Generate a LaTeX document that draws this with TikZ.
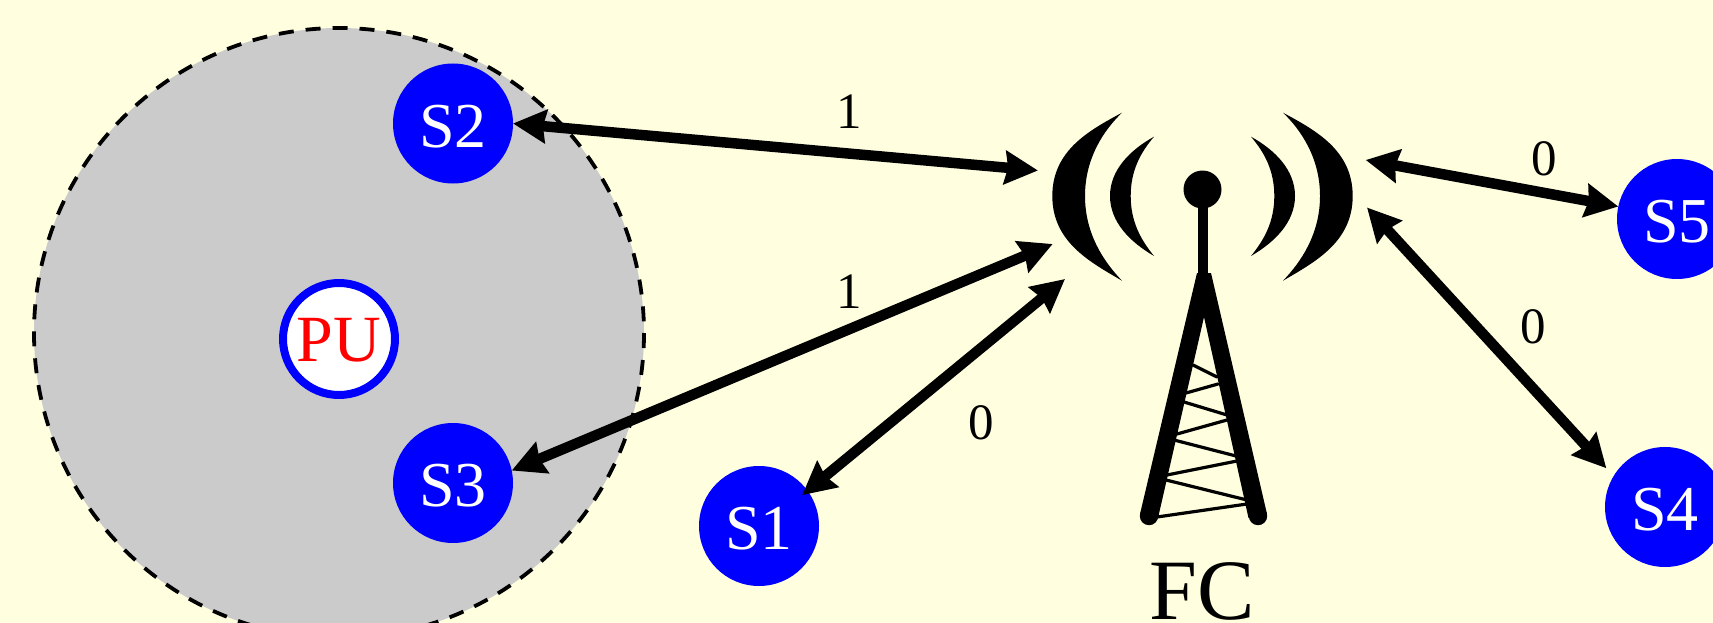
\documentclass[tikz,border=0pt]{standalone}
\usepackage{fontspec}
\setmainfont{Liberation Serif}
\usetikzlibrary{arrows.meta}
\definecolor{bgc}{RGB}{255,255,224}
\definecolor{zone}{RGB}{203,203,203}
\definecolor{nodeblue}{RGB}{0,0,255}
\tikzset{
  sensor/.style={circle,fill=nodeblue,text=white,minimum size=120pt,inner sep=0pt,outer sep=0pt,text height=47pt,text depth=0pt,font=\fontsize{64}{64}\selectfont},
  primary/.style={circle,draw=nodeblue,line width=8pt,fill=white,text=red,minimum size=112pt,inner sep=0pt,outer sep=0pt,text height=45pt,text depth=0pt,font=\fontsize{66}{66}\selectfont},
  link/.style={line width=10.5pt,{Stealth[length=33pt,width=33pt,inset=3pt]}-{Stealth[length=33pt,width=33pt,inset=3pt]}},
  bit/.style={inner sep=0pt,font=\fontsize{51}{51}\selectfont},
  mast/.style={line width=10.5pt},
  brace/.style={line width=3.2pt,line cap=round}
}
\begin{document}
\begin{tikzpicture}[x=1pt,y=-1pt]
\useasboundingbox (0,0) rectangle (1713,623);
\clip (0,0) rectangle (1713,623);
\fill[bgc] (0,0) rectangle (1713,623);
% sensing zone
\draw[fill=zone,line width=3.8pt,dash pattern=on 15pt off 12pt] (339,333) circle[radius=305];
% tower
\fill (1202.5,189.5) circle[radius=19];
\draw[mast] (1203,190) -- (1203,275);
\fill (1197,273) -- (1211,273) -- (1267,514) -- (1248.5,518) -- (1204,317) -- (1158,518) -- (1140,514) -- cycle;
\fill (1149,516) circle[radius=9.2];
\fill (1258,516) circle[radius=9.2];
\draw[brace] (1193,365) -- (1217,377);
\draw[brace] (1186,393) -- (1218,384);
\draw[brace] (1184,402) -- (1227,415);
\draw[brace] (1177,434) -- (1227,420);
\draw[brace] (1174,440) -- (1236,456);
\draw[brace] (1167,475) -- (1237,461);
\draw[brace] (1166,480) -- (1247,500);
\draw[brace] (1157,517) -- (1247,504);
% radio waves
\foreach \s in {1,-1}{
  \begin{scope}[shift={(1202.5,0)},xscale=\s]
    \fill (-80.5,112.7) .. controls (-112.5,130) and (-150.2,150) .. (-150.2,196)
          .. controls (-150.2,242) and (-112.5,262) .. (-80.5,280.7)
          .. controls (-98.5,262) and (-117.5,234) .. (-117.5,196)
          .. controls (-117.5,158) and (-98.5,130) .. cycle;
    \fill (-48.5,136.7) .. controls (-72.5,150) and (-92.5,170) .. (-92.5,196)
          .. controls (-92.5,222) and (-72.5,242) .. (-48.5,256)
          .. controls (-61.5,240) and (-71.8,222) .. (-71.8,196)
          .. controls (-71.8,170) and (-61.5,152) .. cycle;
  \end{scope}
}
\coordinate (a2) at (1038,170.5);
\coordinate (a3) at (1052.7,244);
\coordinate (a1) at (1065,279);
\coordinate (a5) at (1365.7,160);
\coordinate (a4) at (1367,207.5);
% nodes
\node[primary] (PU) at (339,339) {PU};
\node[sensor] (S1) at (759,526) {S1};
\node[sensor] (S2) at (453,123.5) {S2};
\node[sensor] (S3) at (453,483) {S3};
\node[sensor] (S4) at (1665,507) {S4};
\node[sensor] (S5) at (1677,219) {S5};
\node[inner sep=0pt,font=\fontsize{86}{86}\selectfont] (FC) at (1202,591) {FC};
% links
\draw[link] (S2.0) -- (a2);
\draw[link] (S3.12) -- (a3);
\draw[link,shorten <=-7pt] (S1.36) -- (a1);
\draw[link] (S5.168) -- (a5);
\draw[link,shorten <=10.7pt] (S4.149) -- (a4);
% labels
\node[bit] (b2) at (849,112) {1};
\node[bit] (b3) at (849,292) {1};
\node[bit] (b1) at (981,423) {0};
\node[bit] (b5) at (1544,159) {0};
\node[bit] (b4) at (1533,327) {0};
\end{tikzpicture}
\end{document}
